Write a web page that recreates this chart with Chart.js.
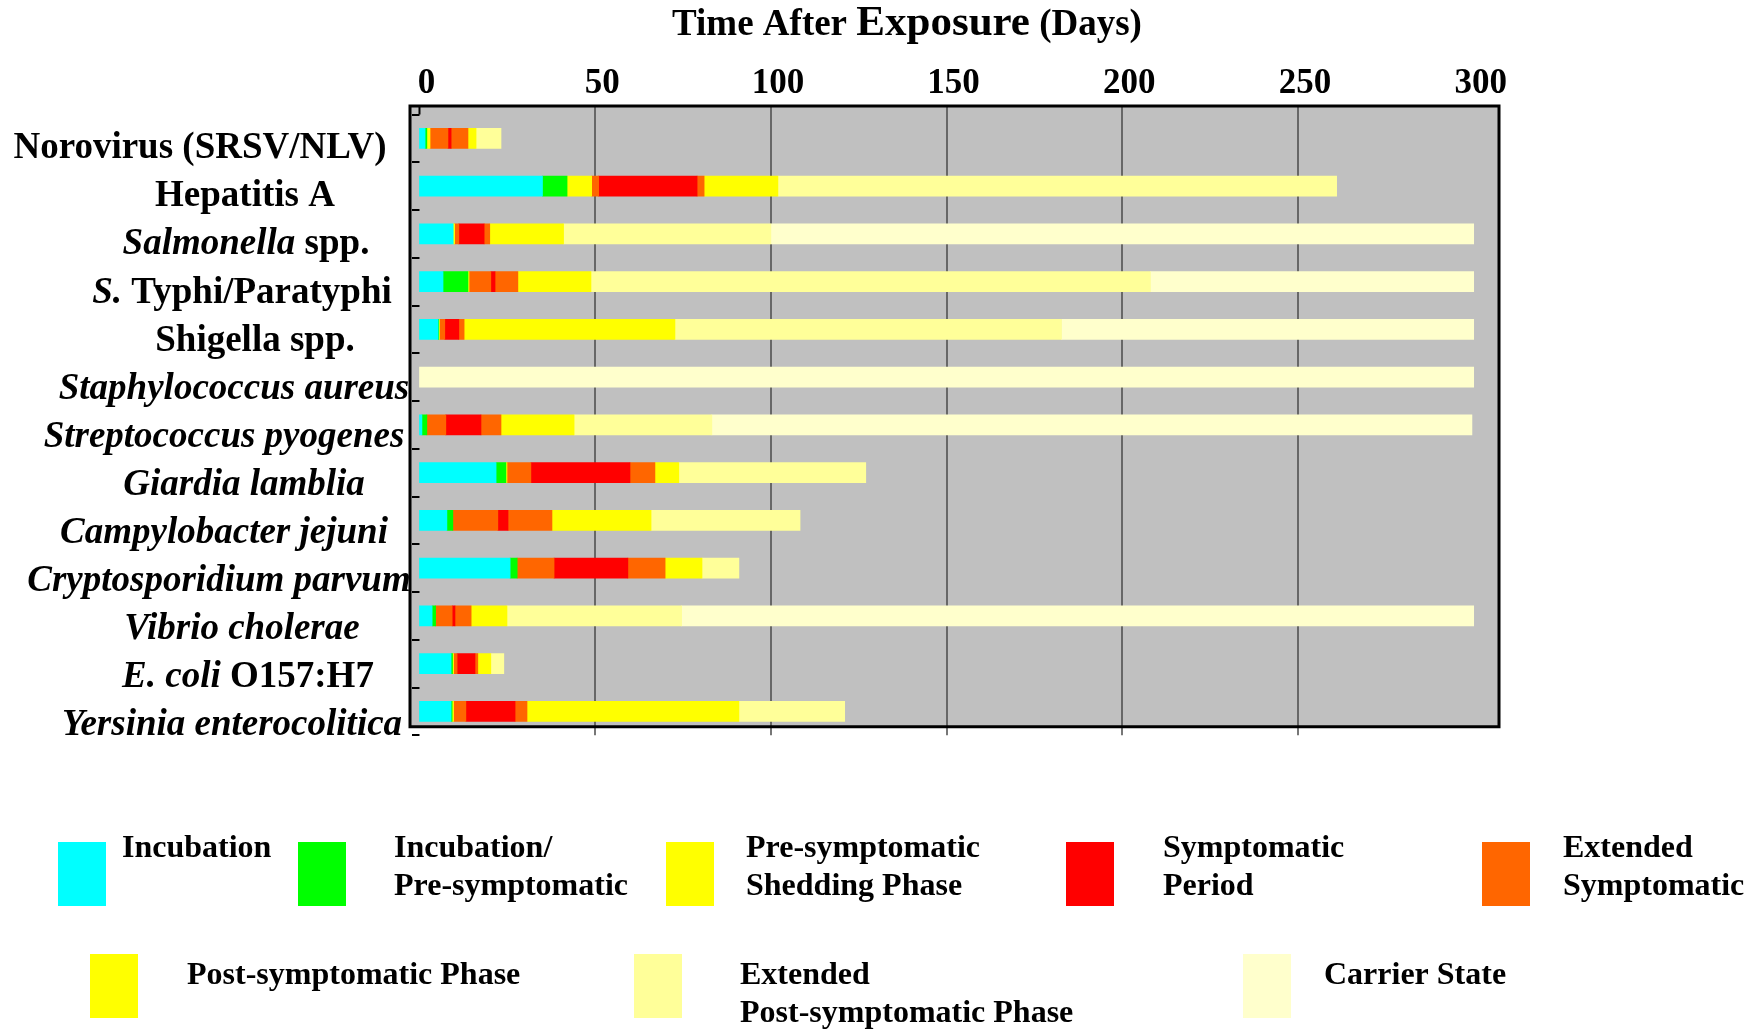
<!DOCTYPE html>
<html>
<head>
<meta charset="utf-8">
<title>Time After Exposure (Days)</title>
<script src="https://cdn.jsdelivr.net/npm/chart.js@4.4.1/dist/chart.umd.min.js"></script>
<style>
  html, body { margin: 0; padding: 0; background: #fff; }
  #wrap { width: 1763px; height: 1029px; }
</style>
</head>
<body>
<div id="wrap"><canvas id="chart" width="1763" height="1029"></canvas></div>
<script>
// ── Data ─────────────────────────────────────────────────────
const categories = [
  'Norovirus (SRSV/NLV)', 'Hepatitis A', 'Salmonella spp.', 'S. Typhi/Paratyphi',
  'Shigella spp.', 'Staphylococcus aureus', 'Streptococcus pyogenes', 'Giardia lamblia',
  'Campylobacter jejuni', 'Cryptosporidium parvum', 'Vibrio cholerae', 'E. coli O157:H7',
  'Yersinia enterocolitica'
];
const xTicks = [0, 50, 100, 150, 200, 250, 300];

// days spent in each phase, stacked left to right
const incubation   = [1.6, 35, 9.6, 6.7, 5.3, 0, 0.7, 21.8, 7.8, 25.8, 3.6, 9.0, 9.0];
const incubPre     = [0.5, 7, 0, 7.1, 0.2, 0, 1.4, 2.8, 1.7, 2.0, 1.0, 0.4, 0.3];
const preShedding  = [0.9, 7, 0.4, 0.3, 0.2, 0, 0, 0.3, 0, 0, 0, 0.3, 0.4];
const extSympEarly = [5.1, 2, 1.2, 6.2, 1.5, 0, 5.4, 6.8, 12.8, 10.5, 4.7, 1.0, 3.5];
const symptomatic  = [0.9, 28, 7.2, 1.2, 4, 0, 10, 28.2, 2.9, 21.0, 0.8, 5.1, 14.0];
const extSympLate  = [4.8, 2, 1.6, 6.5, 1.5, 0, 5.7, 7.1, 12.5, 10.6, 4.6, 0.8, 3.4];
const postSymp     = [2.3, 21, 21, 20.8, 60, 0, 20.8, 6.8, 28.2, 10.5, 10.2, 3.7, 60.3];
const extPostSymp  = [7.1, 159, 59, 159.2, 110, 0, 39.2, 53.2, 42.4, 10.5, 49.7, 3.7, 30.1];
const carrier      = [0, 0, 200, 92, 117.3, 300, 216.3, 0, 0, 0, 225.4, 0, 0];

// ── Styling / layout ─────────────────────────────────────────
const SERIF = "'Liberation Serif', 'Times New Roman', serif";

const series = [
  { label: 'Incubation', data: incubation, color: '#00ffff' },
  { label: 'Incubation/Pre-symptomatic', data: incubPre, color: '#00ff00' },
  { label: 'Pre-symptomatic Shedding Phase', data: preShedding, color: '#ffff00' },
  { label: 'Extended Symptomatic', data: extSympEarly, color: '#ff6600' },
  { label: 'Symptomatic Period', data: symptomatic, color: '#ff0000' },
  { label: 'Extended Symptomatic', data: extSympLate, color: '#ff6600' },
  { label: 'Post-symptomatic Phase', data: postSymp, color: '#ffff00' },
  { label: 'Extended Post-symptomatic Phase', data: extPostSymp, color: '#ffff99' },
  { label: 'Carrier State', data: carrier, color: '#ffffcc' }
];

// italic part (genus/species) at the start of each row label, and its centre x
const labelItalic = ['', '', 'Salmonella', 'S.', '', 'Staphylococcus aureus', 'Streptococcus pyogenes',
  'Giardia lamblia', 'Campylobacter jejuni', 'Cryptosporidium parvum', 'Vibrio cholerae', 'E. coli',
  'Yersinia enterocolitica'];
const labelCx = [200, 245, 246, 242, 255, 234, 224, 244, 224, 219, 242, 248, 232];

const legendItems = [
  { s: 0, lines: ['Incubation'], sx: 58, sy: 842, tx: 122, ty: 857 },
  { s: 1, lines: ['Incubation/', 'Pre-symptomatic'], sx: 298, sy: 842, tx: 394, ty: 857 },
  { s: 2, lines: ['Pre-symptomatic', 'Shedding Phase'], sx: 666, sy: 842, tx: 746, ty: 857 },
  { s: 4, lines: ['Symptomatic', 'Period'], sx: 1066, sy: 842, tx: 1163, ty: 857 },
  { s: 5, lines: ['Extended', 'Symptomatic'], sx: 1482, sy: 842, tx: 1563, ty: 857 },
  { s: 6, lines: ['Post-symptomatic Phase'], sx: 90, sy: 954, tx: 187, ty: 984 },
  { s: 7, lines: ['Extended', 'Post-symptomatic Phase'], sx: 634, sy: 954, tx: 740, ty: 984 },
  { s: 8, lines: ['Carrier State'], sx: 1243, sy: 954, tx: 1324, ty: 984 }
];

const SHIFT = 8.5;   // plot frame sits a little above the category bands

// ── Frame: grey panel, grid, border, tick marks ──────────────
const frame = {
  id: 'frame',
  beforeDatasetsDraw(chart) {
    const { ctx, chartArea: a, scales: { x } } = chart;
    const top = a.top - SHIFT, bottom = a.bottom - SHIFT;
    ctx.save();
    ctx.fillStyle = '#c0c0c0';
    ctx.fillRect(a.left, top, a.right - a.left, bottom - top);
    ctx.strokeStyle = '#4a4a4a';
    ctx.lineWidth = 1.5;
    xTicks.forEach(v => {
      if (v <= 0 || v >= 300) return;
      const px = Math.round(x.getPixelForValue(v));
      ctx.beginPath();
      ctx.moveTo(px, top);
      ctx.lineTo(px, a.bottom);
      ctx.stroke();
    });
    ctx.restore();
  },
  afterDatasetsDraw(chart) {
    const { ctx, chartArea: a, scales: { x } } = chart;
    const top = a.top - SHIFT, bottom = a.bottom - SHIFT;
    const x0 = x.getPixelForValue(0);
    const band = (a.bottom - a.top) / categories.length;
    ctx.save();
    ctx.strokeStyle = '#000';
    ctx.lineWidth = 2;
    for (let k = 0; k <= categories.length; k++) {
      const py = Math.round(a.top + k * band);
      ctx.beginPath();
      ctx.moveTo(a.left + 2, py);
      ctx.lineTo(x0, py);
      ctx.stroke();
    }
    ctx.beginPath();
    ctx.moveTo(x0, top);
    ctx.lineTo(x0, a.top);
    ctx.stroke();
    ctx.lineWidth = 3;
    ctx.strokeRect(a.left, top, a.right - a.left, bottom - top);
    ctx.restore();
  }
};

// ── Texts: title, row labels, legend ─────────────────────────
const texts = {
  id: 'texts',
  afterDraw(chart) {
    const { ctx, scales: { y } } = chart;
    ctx.save();
    ctx.fillStyle = '#000';
    ctx.textBaseline = 'alphabetic';

    // title with a larger middle word
    const parts = [['Time After ', 37], ['Exposure', 43], [' (Days)', 37]];
    const widths = parts.map(([t, s]) => { ctx.font = `bold ${s}px ${SERIF}`; return ctx.measureText(t).width; });
    let tx = 907 - widths.reduce((p, c) => p + c, 0) / 2;
    parts.forEach(([t, s], i) => {
      ctx.font = `bold ${s}px ${SERIF}`;
      ctx.fillText(t, tx, 35);
      tx += widths[i];
    });

    // row labels, genus/species in italics
    categories.forEach((name, i) => {
      const it = labelItalic[i];
      const rest = name.slice(it.length);
      const fIt = `italic bold 37px ${SERIF}`, fUp = `bold 37px ${SERIF}`;
      ctx.font = fIt; const wi = ctx.measureText(it).width;
      ctx.font = fUp; const wr = ctx.measureText(rest).width;
      const lx = labelCx[i] - (wi + wr) / 2;
      const ly = y.getPixelForValue(i) + 20 + i * 0.3;
      ctx.font = fIt; ctx.fillText(it, lx, ly);
      ctx.font = fUp; ctx.fillText(rest, lx + wi, ly);
    });

    // legend
    ctx.font = `bold 32px ${SERIF}`;
    legendItems.forEach(item => {
      ctx.fillStyle = series[item.s].color;
      ctx.fillRect(item.sx, item.sy, 48, 64);
      ctx.fillStyle = '#000';
      item.lines.forEach((ln, j) => ctx.fillText(ln, item.tx, item.ty + j * 38));
    });
    ctx.restore();
  }
};

// ── Chart ────────────────────────────────────────────────────
new Chart(document.getElementById('chart'), {
  type: 'bar',
  data: {
    labels: categories,
    datasets: series.map(s => ({
      label: s.label,
      data: s.data.map(v => v || null),
      backgroundColor: s.color,
      borderWidth: 0,
      barThickness: 20
    }))
  },
  options: {
    indexAxis: 'y',
    responsive: false,
    animation: false,
    devicePixelRatio: 1,
    layout: { padding: { left: 410, right: 264, top: 34.5, bottom: 293.75 } },
    plugins: { legend: { display: false }, tooltip: { enabled: false } },
    scales: {
      x: {
        type: 'linear',
        position: 'top',
        stacked: true,
        min: -2.7,
        max: 307.2,
        afterBuildTicks: s => { s.ticks = xTicks.map(v => ({ value: v })); },
        afterFit: s => { s.height = 80; },
        grid: { display: false, drawTicks: false },
        border: { display: false },
        ticks: {
          color: '#000', padding: 10, labelOffset: 7, maxRotation: 0,
          font: { family: SERIF, size: 35, weight: 'bold' }
        }
      },
      y: { type: 'category', stacked: true, display: false, offset: true }
    }
  },
  plugins: [frame, texts]
});
</script>
</body>
</html>
